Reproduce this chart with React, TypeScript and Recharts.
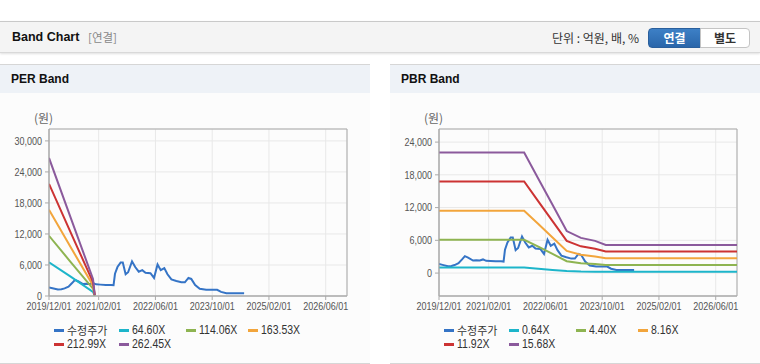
import { LineChart, Line, XAxis, YAxis, CartesianGrid, ReferenceArea } from "recharts";

// x axis is months since 2019/12/01
const MONTH_TICKS = [0, 14, 30, 46, 62, 78];
const MONTH_LABELS = ["2019/12/01", "2021/02/01", "2022/06/01", "2023/10/01", "2025/02/01", "2026/06/01"];

const PRICE_MONTHS = [
  0, 1, 2.5, 3.5, 4.4, 5.5, 6.5, 7.3, 8.2, 9.6, 10.5, 11.5, 12.4, 13.3, 14.5, 16, 17.5, 18.2,
  18.6, 19.3, 20.2, 20.8, 21.6, 22.3, 23.4, 24.3, 25.3, 26.3, 27.2, 28.6, 29.6, 30.6, 31.5, 32.5,
  33.4, 34.5, 35.9, 37.3, 38.3, 39.3, 40.1, 41.2, 42.5, 44.3, 47.4, 48.5, 50, 55,
];
const PRICE_VALUES = [
  1650, 1500, 1250, 1300, 1470, 1800, 2500, 3100, 2850, 2300, 2350, 2300, 2500, 2250, 2200, 2150, 2150, 2100,
  4300, 5600, 6500, 6500, 4200, 4600, 6700, 5600, 4700, 5000, 4500, 4400, 3500, 6100, 5000, 5400,
  4200, 3200, 2900, 2650, 2650, 3500, 3300, 2100, 1400, 1200, 1200, 800, 550, 550,
];

const PER_MONTHS = [0, 6, 12.4, 12.9];
const PER_64 = [6500, 3780, 810, 60];
const PER_114 = [11650, 6670, 1430, 110];
const PER_163 = [16700, 9570, 2050, 150];
const PER_212 = [21680, 12460, 2670, 190];
const PER_262 = [26700, 15350, 3290, 230];

const PBR_MONTHS = [0, 24, 28, 32, 36, 40, 44, 47, 84];
const PBR_064 = [1030, 1000, 800, 580, 380, 290, 260, 230, 230];
const PBR_440 = [6110, 6110, 4850, 3510, 2180, 1800, 1650, 1460, 1460];
const PBR_816 = [11430, 11430, 8990, 6510, 4050, 3350, 3050, 2720, 2720];
const PBR_1192 = [16800, 16800, 13140, 9510, 5900, 4900, 4450, 3950, 3950];
const PBR_1568 = [22080, 22080, 17280, 12510, 7700, 6450, 5900, 5150, 5150];

const PER_TICKS = [0, 6000, 12000, 18000, 24000, 30000];
const PBR_TICKS = [0, 6000, 12000, 18000, 24000];

const COLORS = ["#3574c6", "#1db5ca", "#8eb451", "#f2a53c", "#cc3333", "#8b5a9c"];

const toPoints = (months: number[], values: number[]) => months.map((m, i) => ({ m, v: values[i] }));

const sans = '"Liberation Sans", Arial, sans-serif';
const krFont = '"Noto Sans CJK KR", sans-serif';

// narrow tick text, the original uses a condensed face
function XTick(props: any) {
  const { x, y, payload } = props;
  return (
    <g transform={`translate(${x},${y})`}>
      <text transform="scale(0.82,1)" textAnchor="middle" dy="0.75em" fill="#555" fontSize={11} fontFamily={sans}>
        {MONTH_LABELS[MONTH_TICKS.indexOf(payload.value)]}
      </text>
    </g>
  );
}

function YTick(props: any) {
  const { x, y, payload } = props;
  return (
    <g transform={`translate(${x - 1},${y})`}>
      <text transform="scale(0.82,1)" textAnchor="end" dy="0.35em" fill="#555" fontSize={11} fontFamily={sans}>
        {payload.value.toLocaleString("en-US")}
      </text>
    </g>
  );
}

type Series = { name: string; months: number[]; values: number[] };

function BandPanel({ left, title, domain, ticks, series }: { left: number; title: string; domain: [number, number]; ticks: number[]; series: Series[] }) {
  const cols = [53, 118, 185, 247];
  return (
    <div style={{ position: "absolute", left, top: 64, width: 370, height: 300, background: "#fcfcfc", borderTop: "1px solid #d6d6d6", borderBottom: "1px solid #d6d6d6", boxSizing: "border-box" }}>
      <div style={{ height: 28, background: "#eef2f7", fontFamily: sans, fontWeight: "bold", fontSize: 12, lineHeight: "29px", paddingLeft: 11, color: "#111" }}>{title}</div>
      <div style={{ position: "absolute", left: 34, top: 44, fontFamily: krFont, fontSize: 12, color: "#666" }}>(원)</div>
      <div style={{ position: "absolute", left: 0, top: 29 }}>
        <LineChart width={370} height={232} margin={{ top: 35, right: 23, left: 4, bottom: 5 }}>
          <CartesianGrid stroke="#e8e8e8" />
          <XAxis
            dataKey="m"
            type="number"
            domain={[0, 84]}
            ticks={MONTH_TICKS}
            allowDataOverflow
            axisLine={{ stroke: "#aaa" }}
            tickLine={{ stroke: "#aaa" }}
            tickSize={4}
            height={25}
            interval={0}
            tick={<XTick />}
          />
          <YAxis
            type="number"
            domain={domain}
            ticks={ticks}
            allowDataOverflow
            width={45}
            tickSize={4}
            axisLine={{ stroke: "#aaa" }}
            tickLine={{ stroke: "#aaa" }}
            tick={<YTick />}
          />
          <ReferenceArea x1={0} x2={84} y1={domain[0]} y2={domain[1]} fill="none" stroke="#aaa" strokeWidth={1} ifOverflow="visible" />
          {series.map((s, i) => (
            <Line
              key={s.name}
              data={toPoints(s.months, s.values)}
              dataKey="v"
              type="linear"
              stroke={COLORS[i]}
              strokeWidth={2}
              dot={false}
              isAnimationActive={false}
            />
          ))}
        </LineChart>
      </div>
      {series.map((s, i) => {
        const col = i < 4 ? i : i - 4;
        const top = i < 4 ? 258 : 272;
        return (
          <div key={s.name} style={{ position: "absolute", left: cols[col] + 1, top, height: 14, display: "flex", alignItems: "center", color: "#333", whiteSpace: "nowrap" }}>
            <span style={{ display: "inline-block", width: 10, height: 3, background: COLORS[i], marginRight: 3 }} />
            {i === 0 ? (
              <span style={{ fontFamily: krFont, fontSize: 11 }}>{s.name}</span>
            ) : (
              <span style={{ fontFamily: sans, fontSize: 12.5, display: "inline-block", transform: "scaleX(0.84)", transformOrigin: "left center" }}>{s.name}</span>
            )}
          </div>
        );
      })}
    </div>
  );
}

export default function App() {
  const perSeries: Series[] = [
    { name: "수정주가", months: PRICE_MONTHS, values: PRICE_VALUES },
    { name: "64.60X", months: PER_MONTHS, values: PER_64 },
    { name: "114.06X", months: PER_MONTHS, values: PER_114 },
    { name: "163.53X", months: PER_MONTHS, values: PER_163 },
    { name: "212.99X", months: PER_MONTHS, values: PER_212 },
    { name: "262.45X", months: PER_MONTHS, values: PER_262 },
  ];
  const pbrSeries: Series[] = [
    { name: "수정주가", months: PRICE_MONTHS, values: PRICE_VALUES },
    { name: "0.64X", months: PBR_MONTHS, values: PBR_064 },
    { name: "4.40X", months: PBR_MONTHS, values: PBR_440 },
    { name: "8.16X", months: PBR_MONTHS, values: PBR_816 },
    { name: "11.92X", months: PBR_MONTHS, values: PBR_1192 },
    { name: "15.68X", months: PBR_MONTHS, values: PBR_1568 },
  ];

  return (
    <div style={{ position: "absolute", left: 0, top: 0, width: 760, height: 364, background: "#fff", overflow: "hidden" }}>
      <div style={{ position: "absolute", left: 0, top: 21, width: 760, height: 32, background: "#f4f4f4", borderTop: "1px solid #c9c9c9", borderBottom: "1px solid #d9d9d9", boxShadow: "0 1px 2px rgba(0,0,0,0.12)", boxSizing: "border-box" }}>
        <span style={{ position: "absolute", left: 12, top: 8, fontFamily: sans, fontWeight: "bold", fontSize: 12.5, color: "#111" }}>Band Chart</span>
        <span style={{ position: "absolute", left: 88, top: 8, fontFamily: krFont, fontSize: 11.5, lineHeight: "15px", color: "#888" }}>[연결]</span>
        <span style={{ position: "absolute", left: 552, top: 8, fontFamily: krFont, fontSize: 12, lineHeight: "15px", color: "#333" }}>단위 : 억원, 배, %</span>
        <div style={{ position: "absolute", left: 648, top: 6, width: 53, height: 20, boxSizing: "border-box", background: "linear-gradient(#3d80c6, #2a66aa)", border: "1px solid #2a5f9c", borderRadius: "4px 0 0 4px", color: "#fff", fontFamily: krFont, fontWeight: "bold", fontSize: 12, textAlign: "center", lineHeight: "18px" }}>연결</div>
        <div style={{ position: "absolute", left: 700, top: 6, width: 50, height: 20, boxSizing: "border-box", background: "#fff", border: "1px solid #c4c4c4", borderRadius: "0 4px 4px 0", color: "#333", fontFamily: krFont, fontWeight: "bold", fontSize: 12, textAlign: "center", lineHeight: "18px" }}>별도</div>
      </div>
      <BandPanel left={0} title="PER Band" domain={[0, 32300]} ticks={PER_TICKS} series={perSeries} />
      <BandPanel left={390} title="PBR Band" domain={[-4200, 26400]} ticks={PBR_TICKS} series={pbrSeries} />
    </div>
  );
}
